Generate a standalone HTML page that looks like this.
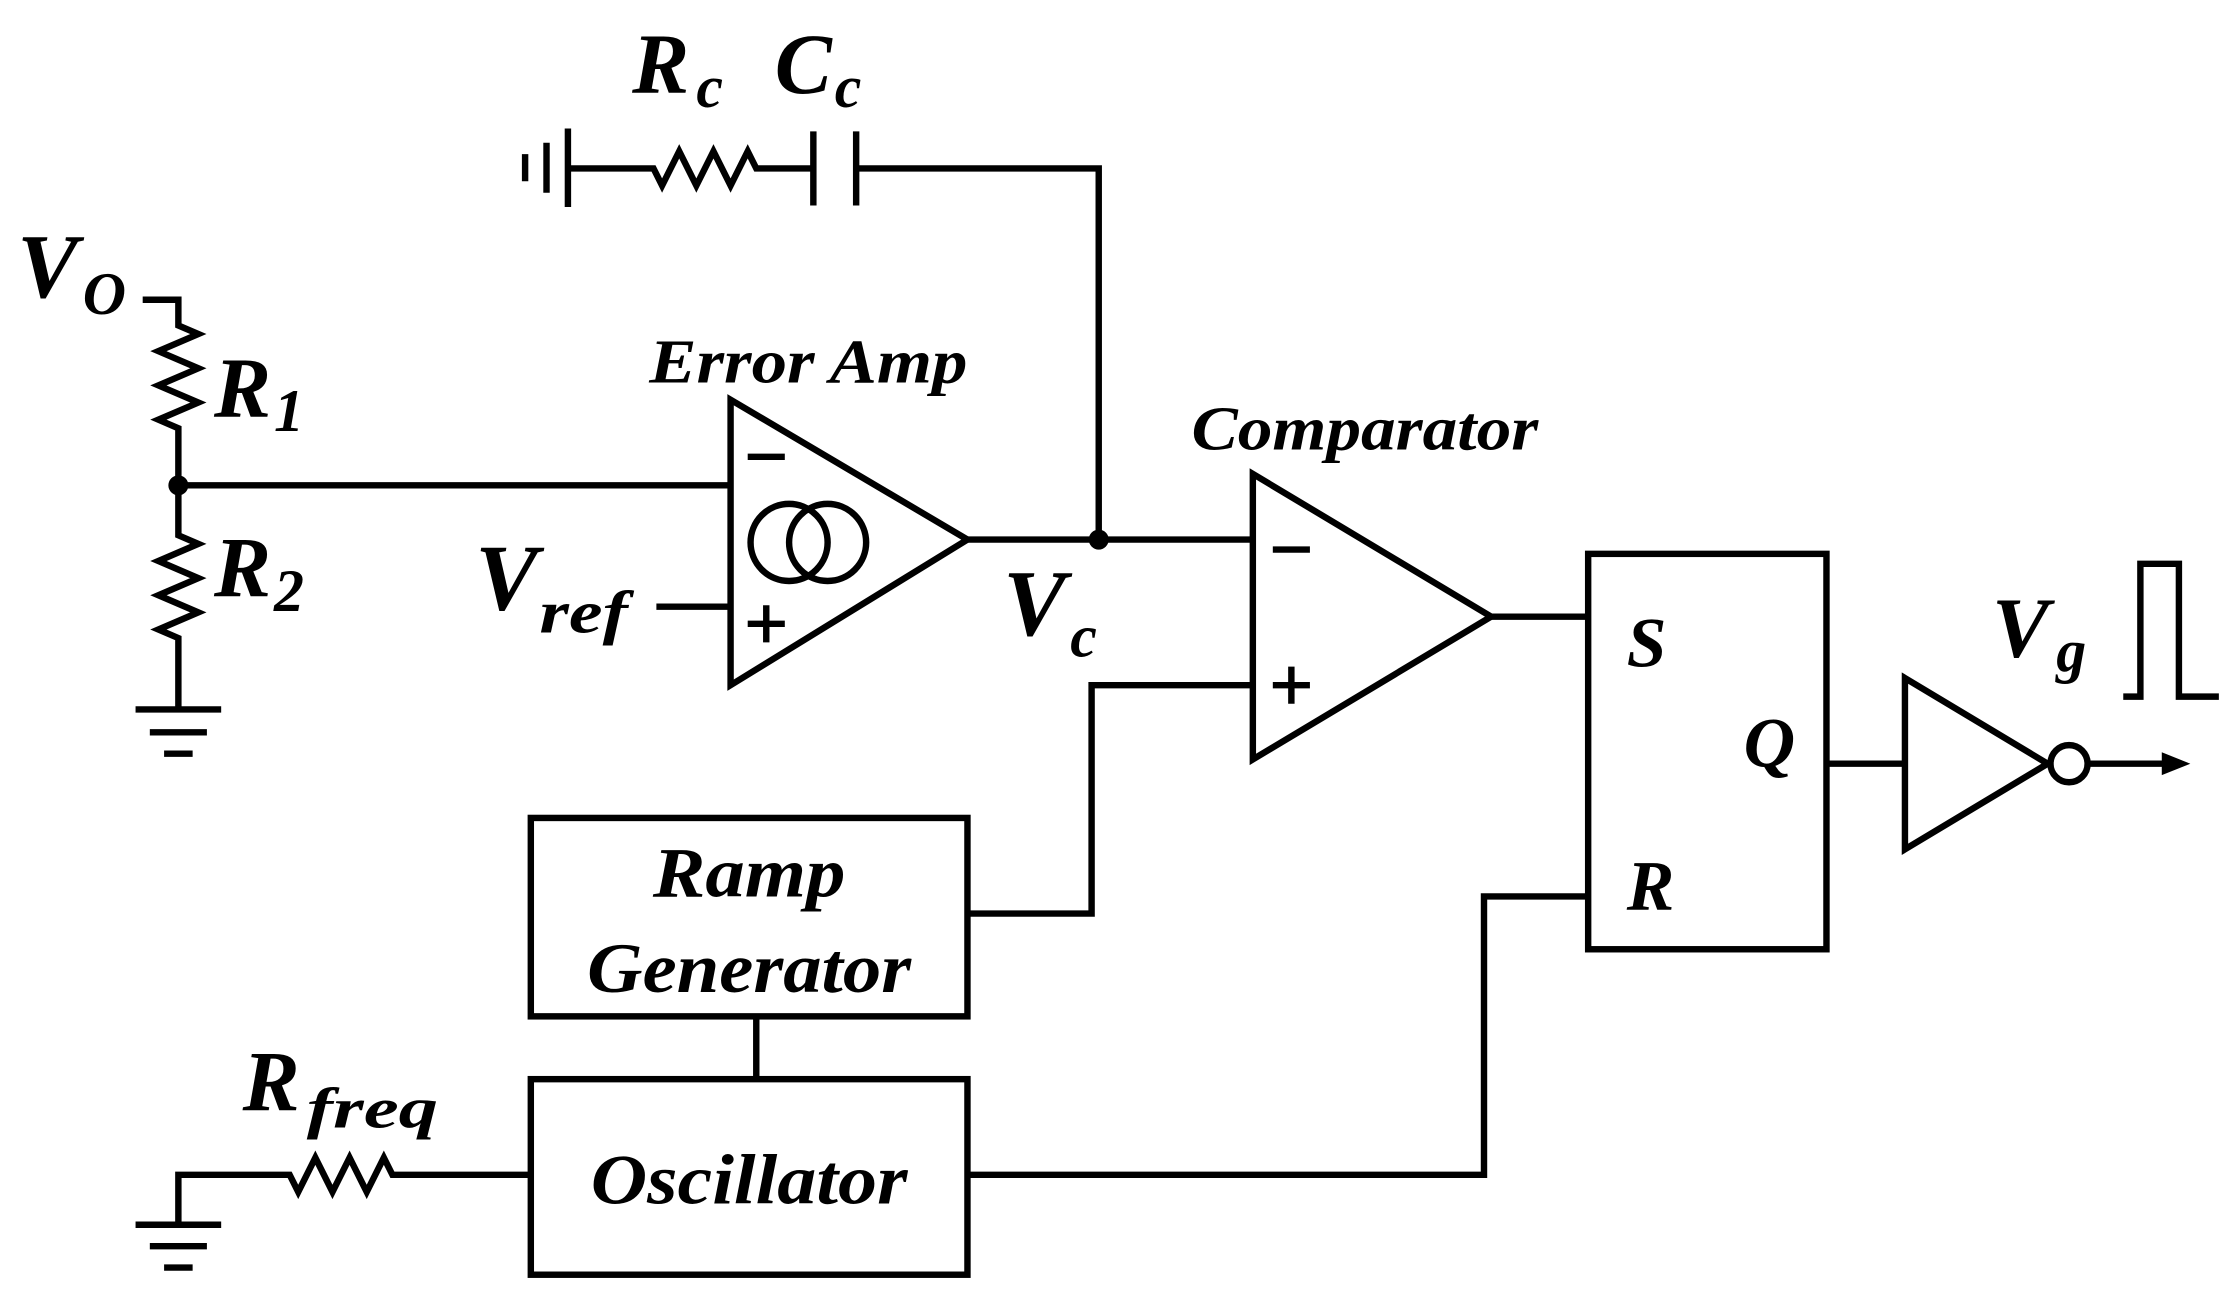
<!DOCTYPE html>
<html><head><meta charset="utf-8"><style>
html,body{margin:0;padding:0;background:#fff;}
svg{display:block;}
text{font-family:"Liberation Serif",serif;font-weight:bold;font-style:italic;fill:#000;}
</style></head><body>
<svg width="2226" height="1289" viewBox="0 0 1560 903" preserveAspectRatio="none" xmlns="http://www.w3.org/2000/svg">
<g stroke="#000" stroke-width="4.5" fill="none" stroke-linejoin="miter">
<path d="M100 210 H125 V228 l14 6 -28 12 28 12 -28 12 28 12 -28 12 14 6 V375 l14 6 -28 12 28 12 -28 12 28 12 -28 12 14 6 V497"/>
<path d="M95 497 H155 M105 513 H145 M115 528 H135"/>
<path d="M125 340 H512"/>
<path d="M512 280 L512 480 L678 378 Z"/>
<circle cx="553" cy="380" r="27"/>
<circle cx="580" cy="380" r="27"/>
<path d="M460 425 H512"/>
<path d="M524 320 H550 M524 437 H550 M537 424 V450"/>
<path d="M678 378 H878"/>
<path d="M770 378 V118 H600 M600 92 V144 M570 92 V144 M570 118 H530 l-6 -12 -12 24 -12 -24 -12 24 -12 -24 -12 24 -6 -12 H398"/>
<path d="M398 90 V145 M383 100 V135 M368 108 V127"/>
<path d="M878 332 L878 532 L1045 432 Z"/>
<path d="M892 385 H918 M892 480 H918 M905 467 V493"/>
<path d="M1045 432 H1113"/>
<path d="M878 480 H765 V640 H678"/>
<rect x="1113" y="388" width="167" height="277"/>
<path d="M1113 628 H1040 V823 H678"/>
<path d="M1280 535 H1335"/>
<path d="M1335 475 L1335 595 L1435 535 Z"/>
<circle cx="1450" cy="535" r="13"/>
<path d="M1463 535 H1520"/>
<path d="M1488 488 H1500 V395 H1527 V488 H1555"/>
<rect x="372" y="573" width="306" height="139"/>
<rect x="372" y="756" width="306" height="137"/>
<path d="M530 712 V756"/>
<path d="M372 823 H275 l-6 -12 -12 24 -12 -24 -12 24 -12 -24 -12 24 -6 -12 H125 V858"/>
<path d="M95 858 H155 M105 873 H145 M115 888 H135"/>
</g>
<circle cx="125" cy="340" r="7"/>
<circle cx="770" cy="378" r="7"/>
<path d="M1535 535 L1515 527 L1515 543 Z"/>
<g>
<text x="12" y="208" font-size="64">V</text><text x="58" y="220" font-size="42">O</text>
<text x="150" y="292" font-size="60">R</text><text x="192" y="302" font-size="42" font-style="normal">1</text>
<text x="150" y="418" font-size="60">R</text><text x="192" y="428" font-size="42" font-style="normal">2</text>
<text x="333" y="427" font-size="66">V</text><text x="378" y="443" font-size="42" textLength="62" lengthAdjust="spacingAndGlyphs">ref</text>
<text x="455" y="268" font-size="44" textLength="223" lengthAdjust="spacingAndGlyphs">Error Amp</text>
<text x="443" y="65" font-size="60">R</text><text x="488" y="75" font-size="42">c</text>
<text x="543" y="65" font-size="60">C</text><text x="585" y="75" font-size="42">c</text>
<text x="703" y="445" font-size="66">V</text><text x="750" y="460" font-size="42">c</text>
<text x="835" y="315" font-size="44" textLength="243" lengthAdjust="spacingAndGlyphs">Comparator</text>
<text x="1140" y="467" font-size="50">S</text>
<text x="1140" y="637" font-size="50">R</text>
<text x="1222" y="537" font-size="50">Q</text>
<text x="1396" y="460" font-size="60">V</text><text x="1441" y="470" font-size="42">g</text>
<text x="525" y="628" font-size="50" text-anchor="middle" textLength="135" lengthAdjust="spacingAndGlyphs">Ramp</text>
<text x="525" y="695" font-size="50" text-anchor="middle" textLength="227" lengthAdjust="spacingAndGlyphs">Generator</text>
<text x="525" y="843" font-size="50" text-anchor="middle" textLength="222" lengthAdjust="spacingAndGlyphs">Oscillator</text>
<text x="170" y="778" font-size="60">R</text><text x="215" y="790" font-size="40" textLength="92" lengthAdjust="spacingAndGlyphs">freq</text>
</g>
</svg>
</body></html>
